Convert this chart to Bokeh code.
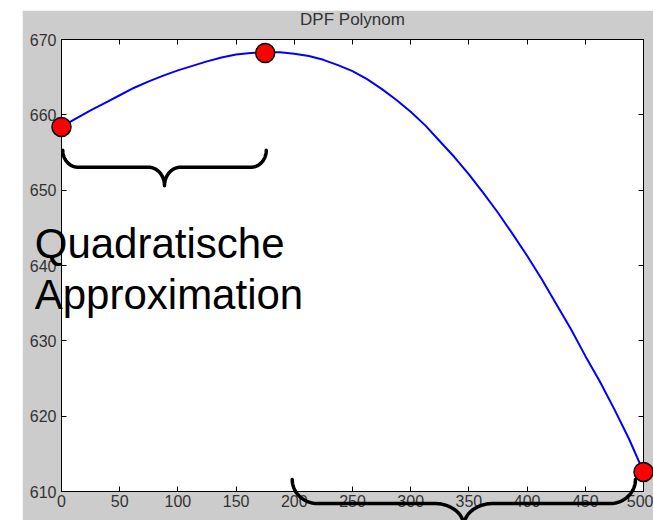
import numpy as np
from bokeh.plotting import figure
from bokeh.layouts import column, row
from bokeh.models import (FixedTicker, LinearAxis, Range1d, Spacer,
                          CustomLabelingPolicy, ColumnDataSource)
from bokeh.core.properties import value
from bokeh.embed import file_html
from bokeh.resources import INLINE

# ---------------- data ----------------
curve_x = [0, 10, 25, 40, 50, 62.5, 75, 87.5, 100, 112.5, 125, 137.5, 150, 162.5,
           175, 187.5, 200, 212.5, 225, 237.5, 250, 262.5, 275, 287.5, 300, 312.5,
           325, 337.5, 350, 362.5, 375, 387.5, 400, 412.5, 425, 437.5, 450, 462.5,
           475, 487.5, 500]
curve_y = [658.4, 659.3, 660.6, 661.8, 662.6, 663.6, 664.45, 665.2, 665.9, 666.5,
           667.1, 667.6, 668.0, 668.2, 668.3, 668.3, 668.1, 667.8, 667.3, 666.6,
           665.8, 664.75, 663.45, 662.0, 660.4, 658.6, 656.5, 654.4, 652.1, 649.6,
           647.0, 644.2, 641.3, 638.2, 634.9, 631.6, 628.0, 624.6, 620.9, 617.0, 612.6]
point_x = [0, 175, 500]
point_y = [658.4, 668.2, 612.6]
x_ticks = [0, 50, 100, 150, 200, 250, 300, 350, 400, 450, 500]
y_ticks = [610, 620, 630, 640, 650, 660, 670]
title_text = "DPF Polynom"
note_lines = ["Quadratische", "Approximation"]

# brace annotations (span in data x, end / bar / tip heights in data y)
brace_left = dict(x0=1.1, x1=175.9, y_end=655.3, y_bar=653.05, y_tip=650.6, rx_end=13, rx_mid=14)
brace_right = dict(x0=198.2, x1=493.1, y_end=611.6, y_bar=608.4, y_tip=605.4, rx_end=22, rx_mid=25)


def brace_path(x0, x1, y_end, y_bar, y_tip, rx_end, rx_mid, n=30):
    xm = (x0 + x1) / 2.0
    t = np.linspace(0, np.pi / 2, n)
    ax1 = x0 + rx_end - rx_end * np.cos(t)
    ay1 = y_end + (y_bar - y_end) * np.sin(t)
    ax2 = xm - rx_mid + rx_mid * np.sin(t)
    ay2 = y_tip + (y_bar - y_tip) * np.cos(t)
    lx = np.concatenate([ax1, ax2])
    ly = np.concatenate([ay1, ay2])
    rx = 2 * xm - lx[::-1]
    ry = ly[::-1]
    return np.concatenate([lx, rx]), np.concatenate([ly, ry])


FONT = "Liberation Sans"
GRAY = "#cccccc"

p = figure(width=631, height=510, output_backend="svg", toolbar_location=None,
           x_range=Range1d(0, 500), y_range=Range1d(610, 670),
           min_border_left=39, min_border_right=10, min_border_top=29, min_border_bottom=29)
p.background_fill_color = "white"
p.border_fill_color = GRAY
p.outline_line_color = "black"
p.outline_line_width = 1
p.grid.visible = False

hide_labels = CustomLabelingPolicy(code="for (const i of indices) { indices.unset(i) } return indices")


def style_axis(ax, labels=True, standoff=4):
    ax.major_tick_in = 5
    ax.major_tick_out = 0
    ax.minor_tick_in = 0
    ax.minor_tick_out = 0
    ax.axis_line_color = "black"
    ax.major_tick_line_color = "black"
    if labels:
        ax.major_label_text_font = FONT
        ax.major_label_text_font_size = "16px"
        ax.major_label_text_color = "#333333"
        ax.major_label_standoff = standoff
    else:
        ax.major_label_policy = hide_labels
        ax.major_label_text_font_size = "1px"
        ax.major_label_standoff = 0


xa = p.xaxis[0]
ya = p.yaxis[0]
xa.ticker = FixedTicker(ticks=x_ticks)
ya.ticker = FixedTicker(ticks=y_ticks)
style_axis(xa, standoff=3)
style_axis(ya, standoff=5)

top_ax = LinearAxis(ticker=FixedTicker(ticks=x_ticks))
style_axis(top_ax, labels=False)
p.add_layout(top_ax, "above")
right_ax = LinearAxis(ticker=FixedTicker(ticks=y_ticks))
style_axis(right_ax, labels=False)
p.add_layout(right_ax, "right")

# curve
p.line(curve_x, curve_y, line_color="#0000ff", line_width=2)

# braces
for b in (brace_left, brace_right):
    bx, by = brace_path(**b)
    p.line(bx, by, line_color="black", line_width=3.5, line_cap="round", line_join="round",
           level="overlay")

# points
p.scatter(point_x, point_y, size=19, fill_color="#ff0000", line_color="black",
          line_width=1.5, level="overlay")

# title (placed just above the frame, centred on it)
title_src = ColumnDataSource(dict(x=[250], y=[672.7], text=[title_text]))
p.text(x="x", y="y", text="text", source=title_src, text_font=value(FONT),
       text_font_size=value("17px"), text_color="#333333", text_baseline="alphabetic",
       text_align="center", level="overlay")

# annotation text
note_src = ColumnDataSource(dict(x=[-23, -23], y=[642.9, 636.2], text=note_lines))
p.text(x="x", y="y", text="text", source=note_src, text_font=value(FONT),
       text_font_size=value("42px"), text_color="black", text_baseline="alphabetic",
       text_align="left", level="overlay")

layout = column(Spacer(height=10), row(Spacer(width=22), p))
open("out.html", "w").write(file_html(layout, INLINE))
